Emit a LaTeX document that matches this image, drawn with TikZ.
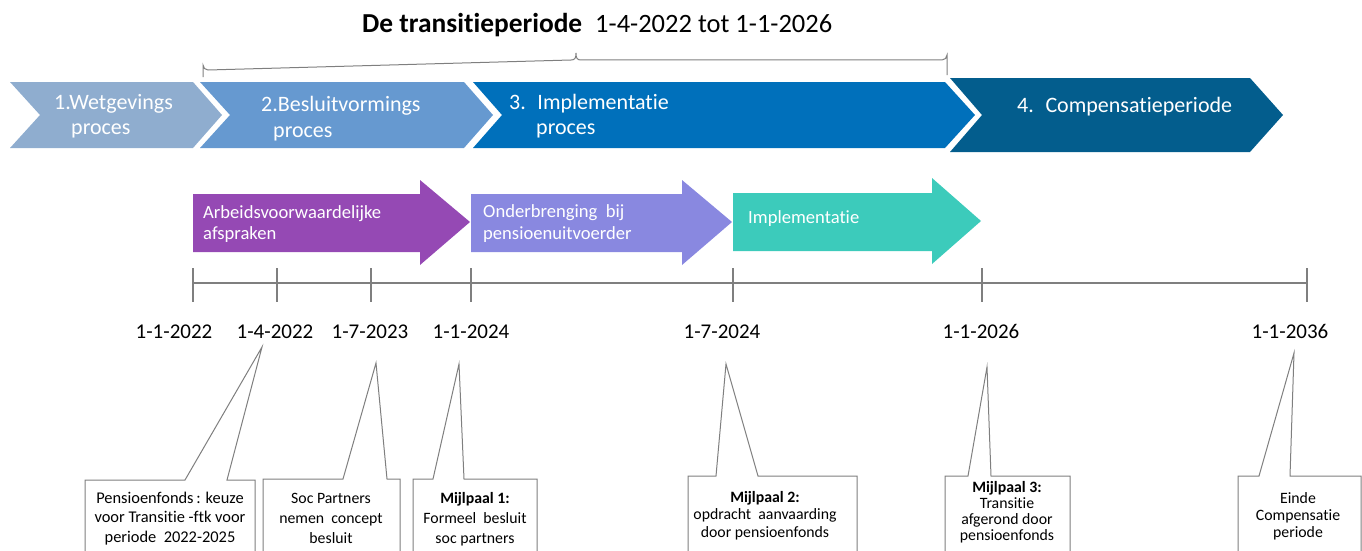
\documentclass[tikz,border=0pt]{standalone}
\usepackage{fontspec}
\setmainfont[Ligatures=NoCommon]{Carlito}
\definecolor{chA}{HTML}{8FADCF}
\definecolor{chB}{HTML}{6699D0}
\definecolor{chC}{HTML}{0070BB}
\definecolor{chD}{HTML}{035D8D}
\definecolor{arP}{HTML}{9549B4}
\definecolor{arL}{HTML}{8988E0}
\definecolor{arT}{HTML}{3CCBBB}
\definecolor{lineg}{HTML}{7F7F7F}
\tikzset{
  chevtext/.style={text=white, anchor=base west, inner sep=0pt, font=\fontsize{22}{26}\selectfont},
  arrtext/.style={text=white, anchor=base west, inner sep=0pt, font=\fontsize{18.6}{21}\selectfont},
  datetext/.style={anchor=base, inner sep=0pt, font=\fontsize{21}{24}\selectfont},
  calltext/.style={anchor=base, inner sep=0pt, align=center, font=\fontsize{15.8}{20}\selectfont},
  callbox/.style={draw=lineg, fill=white, line width=1pt},
  tline/.style={draw=lineg, line width=2pt},
}
\newcommand\mycallout[8]{% left right top baseL baseR tipx tipy name
  \coordinate (#8tip) at (#6,#7);
  \path[callbox] (#1,565) -- (#1,#3) -- (#4,#3) -- (#8tip) -- (#5,#3) -- (#2,#3) -- (#2,565);
}
\begin{document}
\begin{tikzpicture}[x=1pt,y=-1pt]
\useasboundingbox (0,0) rectangle (1362,551);
% title
\node[anchor=base west, inner sep=0pt, font=\fontsize{27.4}{30}\selectfont\bfseries] (tA) at (362,33) {De transitieperiode};
\node[anchor=base west, inner sep=0pt, font=\fontsize{26.5}{30}\selectfont] (tB) at (595,33) {1-4-2022 tot 1-1-2026};
% brace
\draw[lineg, line width=1pt] (203,77) -- (203,65) arc[start angle=180, end angle=90, radius=5] -- (571,60) .. controls (575,60) and (576,58) .. (576,53) .. controls (576,58) and (577,60) .. (581,60) -- (942,60) arc[start angle=90, end angle=0, radius=5] -- (947,75);
% chevrons
\fill[chA] (10,82) -- (193,82) -- (222,115) -- (193,148) -- (10,148) -- (40,115) -- cycle;
\fill[chB] (200,82) -- (464,82) -- (493,115) -- (464,148) -- (200,148) -- (230,115) -- cycle;
\fill[chC] (473,82) -- (945,82) -- (975,115) -- (945,148) -- (473,148) -- (502,115) -- cycle;
\fill[chD] (950,78) -- (1250,78) -- (1283,115) -- (1250,152) -- (950,152) -- (982,115) -- cycle;
\node[chevtext] (c1a) at (54,109) {1.Wetgevings};
\node[chevtext] (c1b) at (71,134) {proces};
\node[chevtext] (c2a) at (261,111) {2.Besluitvormings};
\node[chevtext] (c2b) at (273,137) {proces};
\node[chevtext] (c3a) at (509,109) {3.~ Implementatie};
\node[chevtext] (c3b) at (536,134) {proces};
\node[chevtext] (c4a) at (1017,112) {4.~ Compensatieperiode};
% block arrows
\fill[arP] (193,194) -- (420,194) -- (420,180) -- (470,222) -- (420,265) -- (420,252) -- (193,252) -- cycle;
\fill[arL] (471,194) -- (682,194) -- (682,180) -- (732,222) -- (682,265) -- (682,252) -- (471,252) -- cycle;
\fill[arT] (733,193) -- (932,193) -- (932,178) -- (981,221) -- (932,264) -- (932,251) -- (733,251) -- cycle;
\node[arrtext] (a1a) at (203,218) {Arbeidsvoorwaardelijke};
\node[arrtext] (a1b) at (203,239) {afspraken};
\node[arrtext] (a2a) at (483,217) {Onderbrenging~ bij};
\node[arrtext] (a2b) at (483,239) {pensioenuitvoerder};
\node[arrtext] (a3a) at (748,223) {Implementatie};
% timeline
\coordinate (tl0) at (193,283);
\coordinate (tl1) at (1307,283);
\draw[tline] (tl0) -- (tl1);
\foreach \xx in {193,277,371,471,733,982,1307} {
  \draw[tline] (\xx,268) -- (\xx,302);
}
\node[datetext] (d1) at (174,338) {1-1-2022};
\node[datetext] (d2) at (275,338) {1-4-2022};
\node[datetext] (d3) at (370,338) {1-7-2023};
\node[datetext] (d4) at (471,338) {1-1-2024};
\node[datetext] (d5) at (722,338) {1-7-2024};
\node[datetext] (d6) at (981,338) {1-1-2026};
\node[datetext] (d7) at (1290,338) {1-1-2036};
% callouts
\mycallout{85}{255}{480}{185}{227}{262}{347}{k1}
\mycallout{263}{400}{479}{343}{387}{376}{363}{k2}
\mycallout{413}{537}{479}{433}{464}{459}{364}{k3}
\mycallout{688}{857}{476}{716}{758}{726}{364}{k4}
\mycallout{945}{1070}{476}{968}{991}{987}{367}{k5}
\mycallout{1238}{1361}{476}{1259}{1290}{1294}{353}{k6}
\node[calltext, font=\fontsize{16.4}{19.5}\selectfont] (b1) at (170,542) {Pensioenfonds\,: keuze\\voor Transitie -ftk voor\\periode~ 2022-2025};
\node[calltext] (b2) at (331,543) {Soc Partners\\nemen~ concept\\besluit};
\node[calltext] (b3) at (475,543) {\textbf{Mijlpaal 1:}\\Formeel~ besluit\\soc partners};
\node[calltext, font=\fontsize{15.8}{17.5}\selectfont] (b4) at (765,537) {\textbf{Mijlpaal 2:}\\opdracht~ aanvaarding\\door pensioenfonds};
\node[calltext, font=\fontsize{15.8}{15.7}\selectfont] (b5) at (1007,540) {\textbf{Mijlpaal 3:}\\Transitie\\afgerond door\\pensioenfonds};
\node[calltext, font=\fontsize{15.8}{17}\selectfont] (b6) at (1298,537) {Einde\\Compensatie\\periode};
\end{tikzpicture}
\end{document}
